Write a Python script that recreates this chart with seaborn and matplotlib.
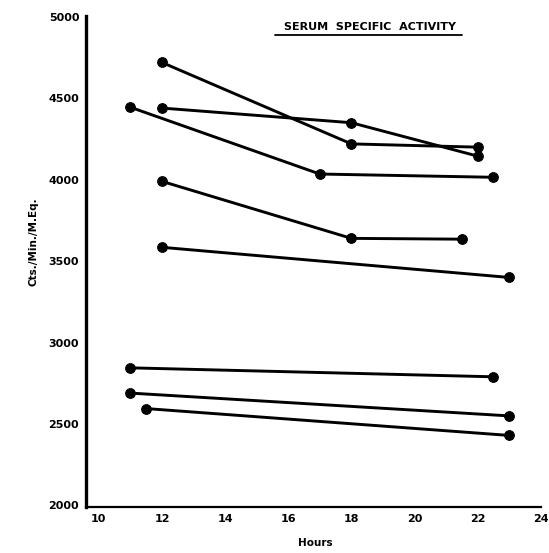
import pandas as pd
import matplotlib.pyplot as plt
import seaborn as sns

sns.set_theme(style="white")
plt.rcParams['font.family'] = ['DejaVu Sans']
plt.rcParams['text.color'] = 'black'
plt.rcParams['axes.labelcolor'] = 'black'

# hours and serum specific activity for each subject
hours_a = [12, 18, 22]
act_a = [4720, 4220, 4200]
hours_b = [12, 18, 22]
act_b = [4440, 4350, 4145]
hours_c = [11, 17, 22.5]
act_c = [4445, 4035, 4015]
hours_d = [12, 18, 21.5]
act_d = [3990, 3640, 3635]
hours_e = [12, 23]
act_e = [3585, 3400]
hours_f = [11, 22.5]
act_f = [2845, 2790]
hours_g = [11, 23]
act_g = [2690, 2550]
hours_h = [11.5, 23]
act_h = [2595, 2430]

series = {
    'A': (hours_a, act_a), 'B': (hours_b, act_b), 'C': (hours_c, act_c),
    'D': (hours_d, act_d), 'E': (hours_e, act_e), 'F': (hours_f, act_f),
    'G': (hours_g, act_g), 'H': (hours_h, act_h),
}
rows = []
for name, (hs, vs) in series.items():
    for h, v in zip(hs, vs):
        rows.append({'subject': name, 'hours': h, 'activity': v})
df = pd.DataFrame(rows)

fig = plt.figure(figsize=(5.49, 5.53), dpi=100)
ax = fig.add_axes([0.157, 0.083, 0.828, 0.888])

sns.lineplot(data=df, x='hours', y='activity', units='subject', estimator=None,
             color='black', marker='o', markersize=7, markeredgecolor='black',
             linewidth=2.1, sort=False, ax=ax)

ax.set_xlim(9.6, 24)
ax.set_ylim(1990, 5005)
ax.set_xticks(range(10, 25, 2))
ax.set_yticks(range(2000, 5001, 500))
ax.tick_params(direction='in', length=3, width=1.5, colors='black',
               labelsize=8, pad=5)
for lab in ax.get_xticklabels() + ax.get_yticklabels():
    lab.set_fontweight('bold')

for side in ['top', 'right']:
    ax.spines[side].set_visible(False)
ax.spines['left'].set_linewidth(2.4)
ax.spines['bottom'].set_linewidth(1.6)
ax.spines['left'].set_color('black')
ax.spines['bottom'].set_color('black')

ax.set_xlabel('Hours', fontsize=7.5, fontweight='bold')
ax.xaxis.set_label_coords(0.505, -0.062)
ax.set_ylabel('Cts./Min./M.Eq.', fontsize=7.5, fontweight='bold')
ax.yaxis.set_label_coords(-0.105, 0.54)

ax.text(0.624, 0.978, 'SERUM  SPECIFIC  ACTIVITY', transform=ax.transAxes,
        ha='center', va='center', fontsize=8, fontweight='bold')
ax.plot([0.416, 0.827], [0.962, 0.962], transform=ax.transAxes,
        color='black', linewidth=1.3, clip_on=False)

fig.savefig('out.png', dpi=100)
